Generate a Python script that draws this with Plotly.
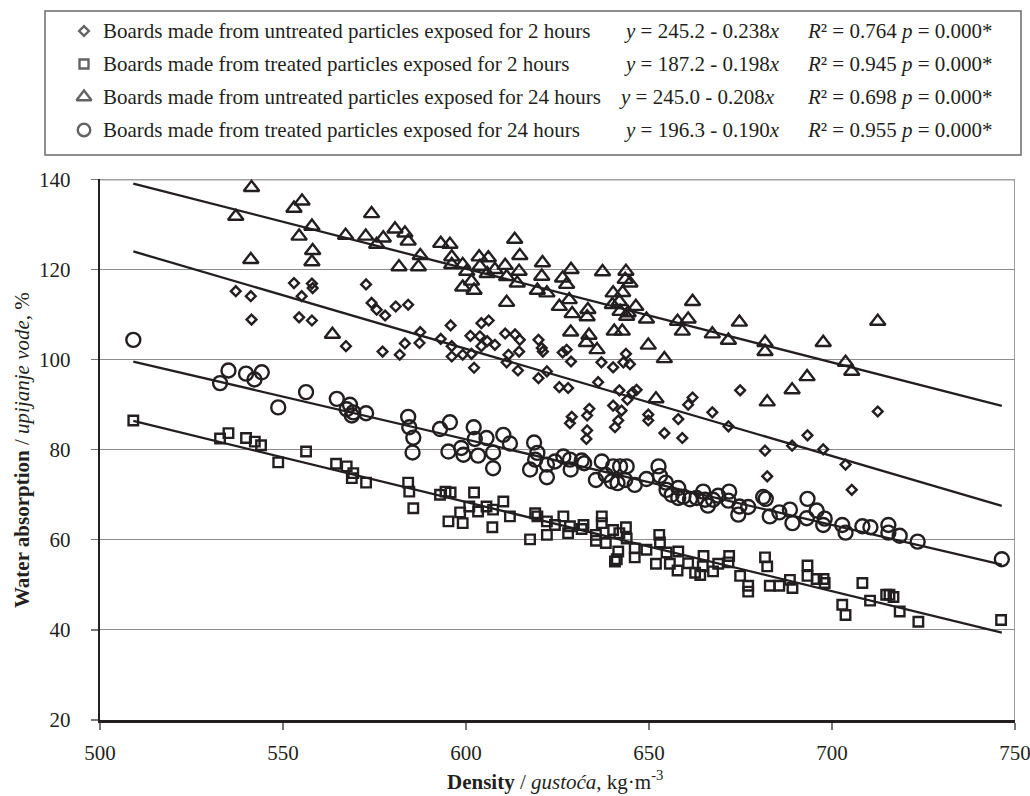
import plotly.graph_objects as go

# ---- data: density (kg/m3) and water absorption (%) ----
tri_x = [541.4, 537.1, 553.0, 555.2, 557.9, 554.4, 541.2, 558.1, 557.9, 563.5, 567.1, 574.2, 572.6, 575.6, 577.4,
         580.6, 583.3, 584.2, 581.7, 587.0, 587.5, 593.1, 595.6, 596.1, 596.1, 599.1, 600.2, 599.1, 601.5, 602.2,
         603.6, 603.8, 606.1, 605.8, 607.9, 610.7, 611.1, 613.3, 614.7, 614.5, 614.0, 611.1, 620.9, 620.7, 619.5,
         622.1, 628.7, 626.4, 627.5, 628.2, 625.5, 629.0, 628.6, 633.3, 633.1, 633.6, 632.9, 635.8, 637.3, 643.7,
         643.5, 644.8, 640.2, 642.8, 641.9, 640.0, 642.1, 644.3, 646.4, 643.9, 640.5, 642.7, 649.3, 649.8, 654.2,
         651.9, 657.8, 659.1, 660.7, 661.9, 667.3, 671.7, 674.7, 681.7, 681.7, 682.3, 689.1, 693.2, 697.6, 703.7,
         705.4, 712.5]
tri_y = [138.2, 131.8, 133.6, 135.2, 129.6, 127.4, 122.2, 124.2, 121.7, 105.6, 127.6, 132.4, 127.4, 125.6, 127.0,
         129.0, 128.1, 126.3, 120.6, 120.6, 123.1, 125.8, 125.6, 122.8, 121.1, 121.1, 119.6, 116.1, 117.4, 115.4,
         122.8, 120.7, 122.6, 119.1, 120.0, 120.9, 118.4, 126.7, 123.1, 119.6, 117.0, 112.7, 121.5, 118.5, 115.4,
         114.8, 120.0, 118.1, 116.7, 113.3, 111.8, 110.2, 106.1, 111.1, 109.5, 105.4, 103.8, 102.2, 119.5, 119.6,
         117.8, 117.0, 114.8, 114.9, 112.9, 112.2, 110.7, 110.4, 111.8, 109.6, 106.3, 106.3, 109.0, 103.2, 100.2,
         91.3, 108.5, 106.3, 109.0, 112.9, 105.7, 104.3, 108.3, 103.8, 101.8, 90.6, 93.3, 96.2, 103.8, 99.4,
         97.4, 108.5]

dia_x = [537.1, 541.2, 541.4, 553.0, 557.9, 558.1, 555.1, 554.4, 557.9, 567.2, 572.7, 574.2, 575.6, 577.9, 577.2,
         580.8, 584.2, 581.9, 583.3, 587.3, 587.5, 593.1, 595.8, 596.1, 596.1, 599.1, 601.2, 601.5, 602.2, 603.8,
         604.2, 606.2, 605.8, 604.2, 607.9, 610.7, 613.4, 614.7, 614.5, 611.6, 611.1, 614.2, 619.8, 620.7, 621.0,
         619.8, 622.1, 625.5, 627.9, 626.4, 627.5, 628.7, 628.9, 628.4, 633.7, 633.1, 633.1, 632.9, 636.1, 637.0,
         640.2, 643.7, 643.0, 644.8, 641.9, 644.1, 645.5, 646.6, 640.2, 642.5, 641.6, 640.7, 649.8, 649.8, 654.2,
         658.0, 659.1, 660.7, 661.9, 674.9, 667.3, 671.7, 681.7, 682.3, 689.1, 693.3, 697.6, 703.7, 705.4, 712.5]
dia_y = [115.2, 114.1, 108.9, 117.0, 116.9, 115.9, 114.1, 109.4, 108.7, 103.0, 116.7, 112.6, 111.1, 109.8, 101.8,
         111.8, 112.2, 101.1, 103.6, 103.7, 106.1, 104.6, 107.6, 103.0, 100.7, 101.1, 105.3, 101.3, 98.2, 105.2,
         108.1, 108.7, 104.1, 103.0, 103.3, 105.8, 105.6, 104.4, 101.8, 101.1, 99.4, 97.6, 104.4, 102.6, 101.8,
         95.9, 97.4, 93.9, 93.7, 101.6, 102.2, 99.6, 87.3, 85.9, 89.1, 87.6, 84.3, 82.4, 95.0, 99.4,
         98.3, 101.3, 99.4, 99.0, 93.2, 91.1, 92.7, 93.3, 89.8, 88.7, 86.5, 85.0, 87.8, 86.5, 83.7,
         86.8, 82.6, 90.0, 91.6, 93.2, 88.3, 85.2, 79.8, 74.1, 80.9, 83.2, 80.1, 76.7, 71.1, 88.5]

cir_x = [509.1, 532.8, 535.1, 539.9, 542.2, 544.2, 548.7, 556.3, 564.7, 568.3, 567.4, 569.2, 568.8, 572.7, 584.2,
         584.5, 585.6, 585.4, 592.9, 595.6, 595.2, 598.7, 599.3, 602.1, 602.4, 603.3, 605.6, 607.4, 607.4, 610.2,
         612.0, 618.6, 619.5, 618.9, 617.5, 622.1, 622.1, 624.3, 626.6, 628.4, 628.6, 631.6, 632.3, 635.5, 637.1,
         638.2, 639.8, 640.2, 641.4, 642.1, 643.9, 643.5, 646.1, 649.3, 652.6, 653.0, 654.6, 654.8, 656.2, 658.0,
         658.0, 659.4, 661.2, 663.0, 664.8, 665.3, 666.1, 667.5, 668.9, 671.9, 671.7, 674.7, 674.4, 677.1, 681.2,
         681.9, 683.0, 685.6, 688.5, 689.2, 693.3, 693.1, 695.8, 698.0, 697.6, 702.8, 703.7, 708.3, 710.5, 715.4,
         715.4, 718.5, 723.4, 746.4]
cir_y = [104.4, 94.8, 97.6, 96.9, 95.6, 97.2, 89.4, 92.8, 91.3, 90.0, 89.0, 88.3, 87.6, 88.1, 87.3,
         85.0, 82.7, 79.4, 84.6, 86.1, 79.6, 80.4, 78.9, 85.0, 82.4, 78.7, 82.6, 79.4, 75.9, 83.3,
         81.4, 81.6, 79.3, 77.8, 75.6, 76.7, 73.9, 77.4, 78.5, 77.8, 75.6, 77.6, 77.0, 73.3, 77.4,
         74.4, 73.0, 76.3, 72.6, 76.3, 76.3, 73.3, 72.2, 73.5, 76.3, 74.2, 72.7, 71.1, 70.0, 71.5,
         69.3, 69.6, 69.0, 69.3, 70.7, 68.9, 67.6, 68.9, 69.8, 70.7, 68.7, 67.4, 65.6, 67.3, 69.5,
         69.1, 65.2, 66.1, 66.7, 63.7, 69.1, 64.8, 66.5, 64.7, 63.3, 63.3, 61.6, 63.0, 62.8, 63.3,
         61.6, 60.9, 59.6, 55.7]

sq_x = [509.1, 532.8, 535.1, 539.9, 542.3, 544.0, 548.7, 556.3, 564.5, 567.4, 569.2, 568.8, 572.7, 584.2, 584.5,
        585.6, 592.9, 594.4, 595.8, 595.2, 598.4, 599.1, 600.9, 602.2, 603.3, 605.6, 607.4, 607.2, 610.2, 612.0,
        617.5, 618.9, 619.5, 622.1, 622.1, 624.3, 626.6, 627.9, 628.4, 632.1, 631.6, 635.5, 635.5, 637.1, 637.1,
        638.2, 640.2, 640.7, 641.2, 641.6, 641.9, 643.7, 643.9, 646.1, 646.1, 649.3, 651.9, 652.8, 653.0, 654.8,
        655.7, 658.0, 657.8, 660.7, 662.6, 664.0, 664.9, 664.7, 667.5, 668.9, 671.9, 671.7, 674.9, 677.1, 677.1,
        681.7, 682.3, 683.0, 685.6, 688.5, 689.2, 693.3, 693.3, 695.8, 697.7, 698.0, 702.8, 703.7, 708.3, 710.4,
        714.8, 715.7, 716.8, 718.5, 723.6, 746.2]
sq_y = [86.5, 82.5, 83.7, 82.6, 81.8, 81.0, 77.2, 79.6, 76.9, 76.3, 74.8, 73.7, 72.7, 72.7, 70.7,
        67.0, 70.0, 70.7, 70.5, 64.1, 66.1, 63.7, 67.4, 70.5, 66.3, 67.4, 66.7, 62.8, 68.5, 65.2,
        60.1, 65.9, 65.2, 64.1, 61.1, 63.3, 65.2, 61.5, 63.0, 63.3, 62.4, 61.1, 59.8, 65.2, 63.7,
        59.3, 62.2, 55.2, 55.7, 57.4, 61.5, 62.8, 60.3, 58.1, 56.1, 57.8, 54.7, 61.1, 59.4, 57.2,
        54.7, 57.4, 53.2, 54.8, 52.7, 52.2, 56.4, 54.1, 53.0, 54.7, 56.4, 55.0, 52.0, 49.8, 48.5,
        56.1, 54.1, 49.8, 49.8, 51.1, 49.3, 54.3, 52.0, 51.3, 51.3, 50.4, 45.6, 43.3, 50.4, 46.5,
        47.8, 47.8, 47.3, 44.1, 41.8, 42.2]

# regression coefficients (intercept, slope) from the legend
series_names = ["Boards made from untreated particles exposed for 2 hours",
                "Boards made from treated particles exposed for 2 hours",
                "Boards made from untreated particles exposed for 24 hours",
                "Boards made from treated particles exposed for 24 hours"]
intercepts = [245.2, 187.2, 245.0, 196.3]
slopes = [-0.238, -0.198, -0.208, -0.190]
r2_vals = ["0.764", "0.945", "0.698", "0.955"]
p_vals = ["0.000*", "0.000*", "0.000*", "0.000*"]

x_ticks = [500, 550, 600, 650, 700, 750]
y_ticks = [20, 40, 60, 80, 100, 120, 140]

# ---- styling ----
INK = "#231f20"
FONT = "Liberation Serif"
symbols = ["diamond-open", "square-open", "triangle-up-open", "circle-open"]
sizes = [7.5, 9.5, 13.5, 14]
xs = [dia_x, sq_x, tri_x, cir_x]
ys = [dia_y, sq_y, tri_y, cir_y]

fig = go.Figure()

# points
for sx, sy, sym, sz, nm in zip(xs, ys, symbols, sizes, series_names):
    fig.add_trace(go.Scatter(x=sx, y=sy, mode="markers", name=nm, showlegend=False,
                             marker=dict(symbol=sym, size=sz, color=INK, line=dict(width=2.4, color=INK)),
                             cliponaxis=False, xaxis="x", yaxis="y"))

# regression lines over the full density range
all_x = dia_x + sq_x + tri_x + cir_x
xmin, xmax = min(all_x), max(all_x)
for a, b in zip(intercepts, slopes):
    fig.add_trace(go.Scatter(x=[xmin, xmax], y=[a + b * xmin, a + b * xmax], mode="lines",
                             line=dict(color=INK, width=2.3), showlegend=False, hoverinfo="skip",
                             xaxis="x", yaxis="y"))

# ---- legend block (page-pixel coordinates on helper axes) ----
row_y = [31, 64, 97, 130]
eq_x = [622, 622, 617, 622]
fig.add_trace(go.Scatter(x=[84] * 4, y=row_y, mode="markers", showlegend=False, hoverinfo="skip",
                         marker=dict(symbol=symbols, size=[7.5, 9, 13, 12.5], color=INK,
                                     line=dict(width=2.4, color=INK)),
                         cliponaxis=False, xaxis="x3", yaxis="y3"))

annotations = []
for i in range(4):
    a, b = intercepts[i], slopes[i]
    annotations.append(dict(xref="x3", yref="y3", x=101, y=row_y[i], xanchor="left", yanchor="middle",
                            text=series_names[i], showarrow=False,
                            font=dict(family=FONT, size=21, color=INK)))
    annotations.append(dict(xref="x3", yref="y3", x=eq_x[i], y=row_y[i], xanchor="left", yanchor="middle",
                            text=f"<i>y</i> = {a:.1f} - {abs(b):.3f}<i>x</i>", showarrow=False,
                            font=dict(family=FONT, size=21, color=INK)))
    annotations.append(dict(xref="x3", yref="y3", x=805, y=row_y[i], xanchor="left", yanchor="middle",
                            text=f"<i>R</i>² = {r2_vals[i]}", showarrow=False,
                            font=dict(family=FONT, size=21, color=INK)))
    annotations.append(dict(xref="x3", yref="y3", x=898, y=row_y[i], xanchor="left", yanchor="middle",
                            text=f"<i>p</i> = {p_vals[i]}", showarrow=False,
                            font=dict(family=FONT, size=21, color=INK)))

# axis titles
annotations.append(dict(xref="paper", yref="paper", x=0.01179, y=0.38028, xanchor="center", yanchor="middle",
                        text="<b>Water absorption</b> / <i>upijanje vode</i>, %", textangle=-90,
                        showarrow=False, font=dict(family=FONT, size=21, color=INK)))
annotations.append(dict(xref="paper", yref="paper", x=0.53536, y=-0.08451, xanchor="center", yanchor="middle",
                        text="<b>Density</b> / <i>gustoća</i>, kg·m<sup>-3</sup>",
                        showarrow=False, font=dict(family=FONT, size=21, color=INK)))

shapes = [
    # legend frame
    dict(type="rect", xref="x3", yref="y3", x0=45, x1=1021, y0=11, y1=155,
         line=dict(color="#6b6b6b", width=1.5), fillcolor="rgba(0,0,0,0)", layer="below"),
    # plot frame: top and right
    dict(type="line", xref="x", yref="y", x0=500, x1=750, y0=140, y1=140,
         line=dict(color="#444444", width=1.5), layer="below"),
    dict(type="line", xref="x", yref="y", x0=750, x1=750, y0=20, y1=140,
         line=dict(color="#7a7a7a", width=1.5), layer="below"),
]

fig.update_layout(
    template="none",
    width=1030, height=796,
    autosize=False,
    margin=dict(l=10, r=2, t=10, b=76, autoexpand=False),
    paper_bgcolor="white", plot_bgcolor="white",
    showlegend=False,
    hovermode=False,
    font=dict(family=FONT, size=21, color=INK),
    xaxis=dict(domain=[0.08841, 0.98723], range=[500, 750], tickvals=x_ticks,
               ticktext=[str(v) for v in x_ticks], showgrid=False, zeroline=False, automargin=False,
               showline=True, linecolor=INK, linewidth=2.5, ticks="outside", ticklen=7,
               tickcolor="#777777", tickwidth=1.2, ticklabelstandoff=5, ticklabeloverflow="allow",
               tickfont=dict(family=FONT, size=21, color=INK), anchor="y"),
    yaxis=dict(domain=[0, 0.76127], range=[20, 140], tickvals=y_ticks,
               ticktext=[str(v) for v in y_ticks], showgrid=True, gridcolor="#8c8c8c", gridwidth=1,
               zeroline=False, showline=True, linecolor=INK, linewidth=2.2, ticks="outside",
               automargin=False, ticklen=7, tickcolor="#777777", tickwidth=1.2, ticklabelstandoff=16,
               ticklabeloverflow="allow",
               tickfont=dict(family=FONT, size=21, color=INK), anchor="x"),
    xaxis3=dict(domain=[0, 1], range=[10, 1028], visible=False, anchor="y3", fixedrange=True,
                automargin=False),
    yaxis3=dict(domain=[0.78169, 1], range=[165, 10], visible=False, anchor="x3", fixedrange=True,
                automargin=False),
    annotations=annotations,
    shapes=shapes,
)

# remove the default page margin so the 1030x796 figure fills the window exactly
fig.write_html("out.html",
               config={"displayModeBar": False, "staticPlot": True},
               post_script="document.body.style.margin='0';document.body.style.overflow='hidden';")
